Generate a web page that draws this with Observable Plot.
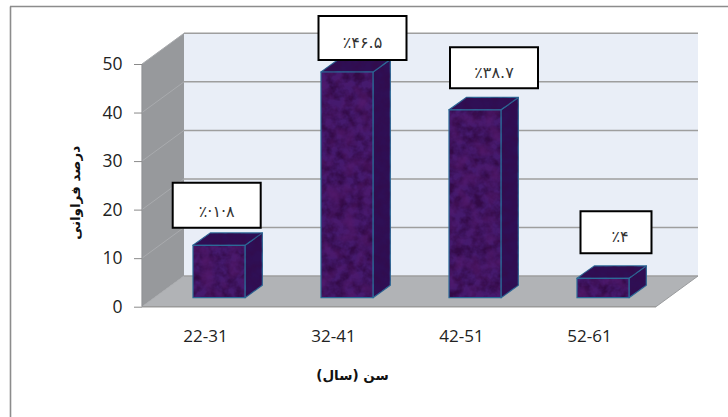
<!DOCTYPE html>
<html>
<head>
<meta charset="utf-8">
<script src="https://cdn.jsdelivr.net/npm/d3@7"></script>
<script src="https://cdn.jsdelivr.net/npm/@observablehq/plot@0.6"></script>
<style>
  html, body { margin: 0; padding: 0; background: #fff; }
  svg { display: block; }
</style>
</head>
<body>
<div id="chart"></div>
<script>
// Age groups and their share of respondents (percent)
const ageGroups = ["22-31", "32-41", "42-51", "52-61"];
const percents = [10.8, 46.5, 38.7, 4];
const percentLabels = ["\u066A\u00B7\u06F1\u00B7\u06F8", "\u066A\u06F4\u06F6.\u06F5", "\u066A\u06F3\u06F8.\u06F7", "\u066A\u06F4"];
const yTicks = [0, 10, 20, 30, 40, 50];
const yTitle = "درصد فراوانی";
const xTitle = "سن (سال)";

const rows = ageGroups.map((age, i) => ({age, percent: percents[i], label: percentLabels[i]}));

// Projection of the box: wall offset from the front plane, bar depth, bar lift off the front edge
const wall = {dx: 42, dy: -30.7};
const depth = {dx: 17.3, dy: -12.4};
const lift = -9;
const plotRight = 698;

// Callout box size and centre relative to the bar's centre and top; tx/ty place the text inside
const callouts = [
  {w: 88, h: 45, dx: -2.3, dy: -40, tx: 0, ty: 7, ls: 3.5},
  {w: 88, h: 44, dx: 15.5, dy: -34, tx: 0, ty: 5, ls: 1.2},
  {w: 88, h: 41, dx: 19, dy: -42, tx: 0, ty: 5, ls: 1.2},
  {w: 71, h: 42, dx: 13, dy: -46, tx: 4, ty: 5, ls: 1.2}
];

const svgNS = "http://www.w3.org/2000/svg";
function poly(parent, pts, attrs) {
  const p = document.createElementNS(svgNS, "polygon");
  p.setAttribute("points", pts.map((d) => d.join(",")).join(" "));
  for (const k in attrs) p.setAttribute(k, attrs[k]);
  parent.appendChild(p);
  return p;
}
function seg(parent, x1, y1, x2, y2, stroke, w) {
  const l = document.createElementNS(svgNS, "line");
  Object.entries({x1, y1, x2, y2, stroke, "stroke-width": w}).forEach(([k, v]) => l.setAttribute(k, v));
  parent.appendChild(l);
}

// Mottled fabric texture for the bar faces
function defsMark() {
  const g = document.createElementNS(svgNS, "g");
  g.innerHTML = `
    <defs>
      <filter id="mottle" x="0" y="0" width="100%" height="100%" color-interpolation-filters="sRGB">
        <feTurbulence type="fractalNoise" baseFrequency="0.11" numOctaves="3" seed="7" result="n"/>
        <feColorMatrix in="n" type="matrix" values="0 0 0 0 0.20  0 0 0 0 0.04  0 0 0 0 0.28  2.4 0 0 0 -0.8"/>
        <feComposite in2="SourceAlpha" operator="in"/>
      </filter>
      <filter id="mottleWarm" x="0" y="0" width="100%" height="100%" color-interpolation-filters="sRGB">
        <feTurbulence type="fractalNoise" baseFrequency="0.07" numOctaves="2" seed="19" result="n"/>
        <feColorMatrix in="n" type="matrix" values="0 0 0 0 0.33  0 0 0 0 0.10  0 0 0 0 0.42  0 1.8 0 0 -0.75"/>
        <feComposite in2="SourceAlpha" operator="in"/>
      </filter>
    </defs>`;
  return g;
}

// Back wall, side wall, floor and the gridlines that wrap around them
function roomMark(index, {x, y}, values, {marginLeft, width}) {
  const g = document.createElementNS(svgNS, "g");
  const y0 = y(0), yMax = y(50), left = marginLeft;
  const backLeft = left + wall.dx;
  const frontRight = plotRight - wall.dx;
  poly(g, [[backLeft, yMax + wall.dy], [plotRight, yMax + wall.dy], [plotRight, y0 + wall.dy], [backLeft, y0 + wall.dy]], {fill: "#e9eef7"});
  poly(g, [[left, yMax], [backLeft, yMax + wall.dy], [backLeft, y0 + wall.dy], [left, y0]], {fill: "#97999c"});
  poly(g, [[left, y0], [frontRight, y0], [plotRight, y0 + wall.dy], [backLeft, y0 + wall.dy]], {fill: "#b1b3b6"});
  for (const t of yTicks) {
    const py = y(t);
    seg(g, left, py, backLeft, py + wall.dy, "#a9abae", 1);
    seg(g, backLeft, py + wall.dy, plotRight, py + wall.dy, "#9e9e9e", 1.5);
  }
  seg(g, left, y0, frontRight, y0, "#9a9a9a", 1.6);
  seg(g, frontRight, y0, plotRight, y0 + wall.dy, "#9a9c9e", 1);
  seg(g, left, yMax, left, y0, "#909295", 1.2);
  return g;
}

// Side and top faces of each bar, extruded from the front face
function sidesMark(index, {x, y}) {
  const g = document.createElementNS(svgNS, "g");
  const w = x.bandwidth();
  const edge = {stroke: "#2c6a97", "stroke-width": 1.2, "stroke-linejoin": "round"};
  for (const i of index) {
    const xl = x(rows[i].age), xr = xl + w;
    const yt = y(rows[i].percent) + lift, yb = y(0) + lift;
    const side = [[xr, yt], [xr + depth.dx, yt + depth.dy], [xr + depth.dx, yb + depth.dy], [xr, yb]];
    const top = [[xl, yt], [xl + depth.dx, yt + depth.dy], [xr + depth.dx, yt + depth.dy], [xr, yt]];
    for (const face of [side, top]) {
      poly(g, face, {fill: "#2f0f55", ...edge});
      poly(g, face, {fill: "#000", filter: "url(#mottle)", opacity: 0.5});
    }
  }
  return g;
}

// Noise overlay on the front faces
function frontTexture(index, {x, y}) {
  const g = document.createElementNS(svgNS, "g");
  const w = x.bandwidth();
  for (const i of index) {
    const xl = x(rows[i].age), xr = xl + w;
    const yt = y(rows[i].percent) + lift, yb = y(0) + lift;
    const face = [[xl, yt], [xr, yt], [xr, yb], [xl, yb]];
    poly(g, face, {fill: "#000", filter: "url(#mottle)"});
    poly(g, face, {fill: "#000", filter: "url(#mottleWarm)"});
    poly(g, face, {fill: "none", stroke: "#2c6a97", "stroke-width": 1.2});
  }
  return g;
}

// White callout boxes holding the percentage labels
function calloutMark(index, {x, y}) {
  const g = document.createElementNS(svgNS, "g");
  const w = x.bandwidth();
  for (const i of index) {
    const c = callouts[i];
    const cx = x(rows[i].age) + w / 2 + c.dx;
    const cy = y(rows[i].percent) + lift + c.dy;
    const xl = cx - c.w / 2, xr = cx + c.w / 2, yt = cy - c.h / 2, yb = cy + c.h / 2;
    poly(g, [[xl, yt], [xr, yt], [xr, yb], [xl, yb]], {fill: "#fff", stroke: "#000", "stroke-width": 2});
    const t = document.createElementNS(svgNS, "text");
    t.textContent = rows[i].label;
    t.setAttribute("x", cx + c.tx);
    t.setAttribute("y", cy + c.ty + 5);
    t.setAttribute("text-anchor", "middle");
    t.setAttribute("direction", "ltr");
    t.setAttribute("unicode-bidi", "bidi-override");
    t.setAttribute("font-family", "'DejaVu Sans', sans-serif");
    t.setAttribute("font-size", 16);
    t.setAttribute("letter-spacing", c.ls);
    t.setAttribute("fill", "#333");
    g.appendChild(t);
  }
  return g;
}

const chart = Plot.plot({
  width: 728,
  height: 417,
  marginLeft: 142,
  marginRight: 30,
  marginTop: 64,
  marginBottom: 110.3,
  style: {background: "#fff", fontFamily: "'Open Sans', sans-serif"},
  x: {type: "band", domain: ageGroups, range: [154, 667.4], paddingInner: 0.595, paddingOuter: 0.2975, label: null},
  y: {domain: [0, 50], label: null},
  marks: [
    defsMark,
    roomMark,
    Plot.axisY({
      ticks: yTicks, tickSize: 8, tickPadding: 12, fontSize: 17.5, stroke: "#8a8a8a", color: "#222",
      label: null, anchor: "left"
    }),
    Plot.axisX({
      tickSize: 0, tickPadding: 23, dx: -14, fontSize: 17, color: "#222", label: null, anchor: "bottom", stroke: "none"
    }),
    Plot.barY(rows, {x: "age", y: "percent", dy: lift, fill: "#451a6e", render(index, scales, values, dims, ctx, next) {
      const front = next(index, scales, values, dims, ctx);
      const g = document.createElementNS(svgNS, "g");
      g.appendChild(sidesMark(index, scales));
      g.appendChild(front);
      g.appendChild(frontTexture(index, scales));
      g.appendChild(calloutMark(index, scales));
      return g;
    }}),
    Plot.text([yTitle], {
      frameAnchor: "left", text: (d) => d, rotate: -90, dx: -67, dy: 7, textAnchor: "middle",
      fontFamily: "'DejaVu Sans', sans-serif", fontSize: 13.5, fontWeight: "bold", fill: "#111"
    }),
    Plot.text([xTitle], {
      frameAnchor: "bottom", text: (d) => d, dx: -68, dy: 73, textAnchor: "middle",
      fontFamily: "'DejaVu Sans', sans-serif", fontSize: 13.5, fontWeight: "bold", fill: "#111"
    }),
    // Chart frame: left and top edges only
    (index, scales, values, dims) => {
      const g = document.createElementNS(svgNS, "g");
      seg(g, 10.5, 417, 10.5, 6.5, "#8c8c8c", 1.6);
      seg(g, 10, 6.5, 728, 6.5, "#8c8c8c", 1.6);
      return g;
    }
  ]
});
document.getElementById("chart").appendChild(chart);
</script>
</body>
</html>
